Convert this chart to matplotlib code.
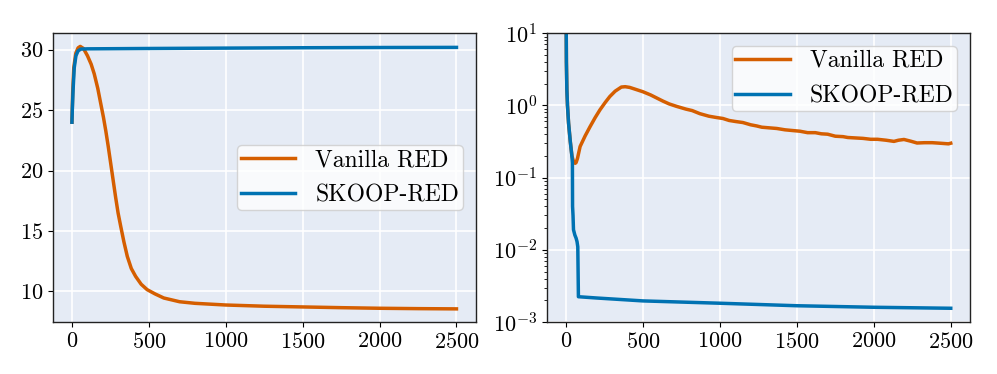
import matplotlib
matplotlib.use("Agg")
import matplotlib.pyplot as plt

# Colours / style
orange = "#D55E00"
blue = "#0072B2"
bg = "#E5EBF5"

plt.rcParams['font.family'] = 'serif'
plt.rcParams['font.serif'] = ['cmr10']
plt.rcParams['mathtext.fontset'] = 'cm'
plt.rcParams['axes.formatter.use_mathtext'] = True

# Left panel
left_van_it = [0, 5, 12, 25, 40, 54, 75, 101, 125, 145, 168, 188, 205, 220, 236,
               252, 268, 284, 300, 317, 338, 360, 386, 414, 450, 489, 540, 597,
               700, 800, 1000, 1250, 1500, 1750, 2000, 2250, 2500]
left_van = [24.0, 26.5, 28.5, 29.7, 30.15, 30.27, 30.1, 29.5, 28.8, 28.0, 26.8,
            25.5, 24.4, 23.3, 22.0, 20.6, 19.2, 17.8, 16.5, 15.4, 14.1, 12.9,
            11.9, 11.25, 10.6, 10.15, 9.8, 9.46, 9.15, 9.02, 8.88, 8.78, 8.72,
            8.66, 8.61, 8.58, 8.56]
left_sk_it = [0, 3, 8, 15, 26, 40, 58, 100, 500, 1000, 1500, 2000, 2500]
left_sk = [24.0, 25.2, 26.8, 28.5, 29.5, 29.9, 30.05, 30.07, 30.1, 30.13, 30.16,
           30.18, 30.19]

# Right panel (log scale)
right_van_it = [0, 3, 6, 10, 17, 28, 39, 50, 60, 66, 75, 92, 125, 157, 190, 221,
                255, 285, 320, 360, 385, 414, 450, 500, 550, 596, 630, 671, 720,
                780, 820, 870, 929, 980, 1020, 1060, 1101, 1150, 1200, 1240, 1272,
                1320, 1370, 1423, 1470, 1520, 1570, 1620, 1659, 1700, 1750, 1800,
                1831, 1880, 1930, 1980, 2024, 2080, 2131, 2160, 2196, 2240, 2281,
                2330, 2380, 2430, 2485, 2500]
right_van = [60, 4.0, 1.65, 1.0, 0.57, 0.32, 0.2, 0.165, 0.158, 0.162, 0.185,
             0.27, 0.38, 0.51, 0.68, 0.87, 1.1, 1.33, 1.58, 1.80, 1.82, 1.78,
             1.68, 1.55, 1.40, 1.25, 1.15, 1.05, 0.97, 0.89, 0.85, 0.77, 0.71,
             0.68, 0.66, 0.62, 0.60, 0.58, 0.54, 0.52, 0.50, 0.49, 0.48, 0.46,
             0.45, 0.44, 0.42, 0.42, 0.405, 0.40, 0.375, 0.37, 0.36, 0.355, 0.35,
             0.34, 0.34, 0.33, 0.318, 0.33, 0.338, 0.32, 0.302, 0.305, 0.305,
             0.30, 0.294, 0.30]
right_sk_it = [0, 3, 6, 10, 17, 28, 39, 42, 43, 46, 49, 58, 66, 72, 77, 81, 200,
               500, 1000, 1500, 2000, 2500]
right_sk = [60, 4.0, 1.65, 1.0, 0.57, 0.32, 0.196, 0.16, 0.040, 0.030, 0.019,
            0.016, 0.0145, 0.013, 0.011, 0.00224, 0.00215, 0.00196, 0.00182,
            0.00168, 0.0016, 0.00155]

fig = plt.figure(figsize=(9.97, 3.74), dpi=100)
ax1 = fig.add_axes([52.7/997, 52/374, 423/997, 288.7/374])
ax2 = fig.add_axes([546.7/997, 52/374, 423.3/997, 288.7/374])

for ax in (ax1, ax2):
    ax.set_facecolor(bg)
    ax.grid(True, which='major', color='white', linewidth=1.2)
    ax.set_axisbelow(True)
    for s in ax.spines.values():
        s.set_color('#222222')
        s.set_linewidth(1.0)
    ax.tick_params(labelsize=16)

leg_kw = dict(fontsize=17, handlelength=2.3, handletextpad=0.85,
              labelspacing=0.55, borderpad=0.15, borderaxespad=0.55)

ax1.plot(left_van_it, left_van, color=orange, lw=2.5, label='Vanilla RED')
ax1.plot(left_sk_it, left_sk, color=blue, lw=2.5, label='SKOOP-RED')
ax1.set_xticks([0, 500, 1000, 1500, 2000, 2500])
ax1.set_yticks([10, 15, 20, 25, 30])
ax1.legend(loc='center right', **leg_kw)

ax2.plot(right_van_it, right_van, color=orange, lw=2.5, label='Vanilla RED')
ax2.plot(right_sk_it, right_sk, color=blue, lw=2.5, label='SKOOP-RED')
ax2.set_yscale('log')
ax2.set_ylim(1e-3, 1e1)
ax2.set_xticks([0, 500, 1000, 1500, 2000, 2500])
ax2.legend(loc='upper right', **leg_kw)

fig.savefig('out.png', dpi=100)
